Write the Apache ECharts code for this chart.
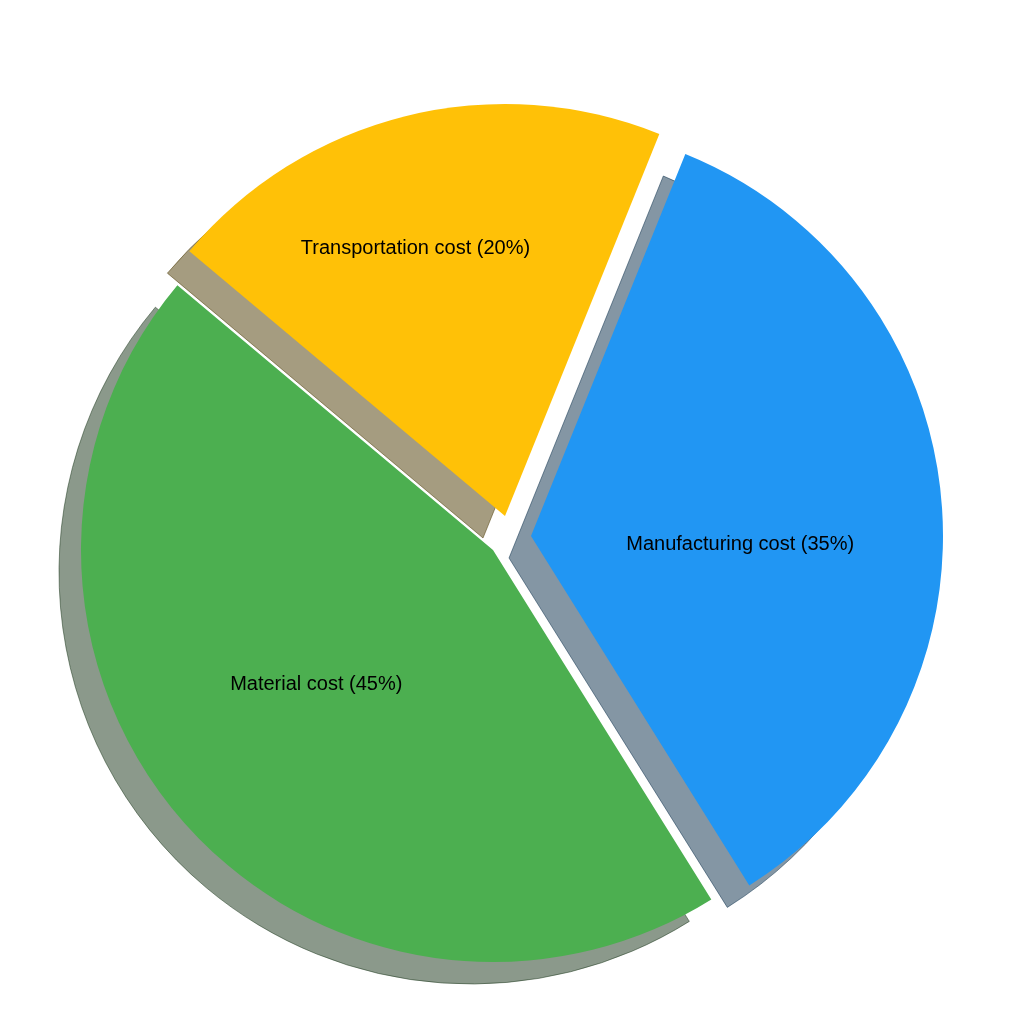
<!DOCTYPE html>
<html>
<head>
<meta charset="utf-8">
<script src="https://cdn.jsdelivr.net/npm/echarts@6/dist/echarts.min.js"></script>
<style>html,body{margin:0;padding:0;background:#fff;}#c{width:1024px;height:1024px;}</style>
</head>
<body>
<div id="c"></div>
<script>
const categories = ['Material cost', 'Manufacturing cost', 'Transportation cost'];
const shares = [45, 35, 20];
const colors = ['#4CAF50', '#2196F3', '#FFC107'];
const shadowColors = ['rgba(23,52,24,0.5)', 'rgba(10,45,73,0.5)', 'rgba(76,58,2,0.5)'];

const centers = [[493, 550], [531, 536], [505, 516]];
const labelShift = [[-19, -3], [1, 27], [-39, -65]];
const R = 412;
const shadowOffset = [-22, 22];

const chart = echarts.init(document.getElementById('c'), null, {renderer: 'canvas'});
const series = [];

// shadows
categories.forEach((cat, i) => {
  series.push({
    type: 'pie', silent: true, z: 1, animation: false,
    center: [centers[i][0] + shadowOffset[0], centers[i][1] + shadowOffset[1]],
    radius: [0, R], startAngle: 140, clockwise: false,
    avoidLabelOverlap: false,
    label: {show: false}, labelLine: {show: false},
    emphasis: {disabled: true},
    data: categories.map((c, j) => ({
      name: c, value: shares[j],
      itemStyle: j === i
        ? {color: shadowColors[j], borderColor: shadowColors[j], borderWidth: 1}
        : {color: 'transparent', borderWidth: 0}
    }))
  });
});

// wedges
categories.forEach((cat, i) => {
  series.push({
    type: 'pie', silent: true, z: 2, animation: false,
    center: centers[i],
    radius: [0, R], startAngle: 140, clockwise: false,
    avoidLabelOverlap: false,
    labelLine: {show: false},
    emphasis: {disabled: true},
    labelLayout: {dx: labelShift[i][0], dy: labelShift[i][1]},
    data: categories.map((c, j) => ({
      name: c, value: shares[j],
      itemStyle: {color: j === i ? colors[j] : 'transparent', borderWidth: 0},
      label: {
        show: j === i, position: 'inside',
        formatter: '{b} ({d}%)',
        color: '#000', fontSize: 20,
        fontFamily: 'Liberation Sans, Arial, sans-serif'
      }
    }))
  });
});

chart.setOption({backgroundColor: '#fff', series: series});
</script>
</body>
</html>
